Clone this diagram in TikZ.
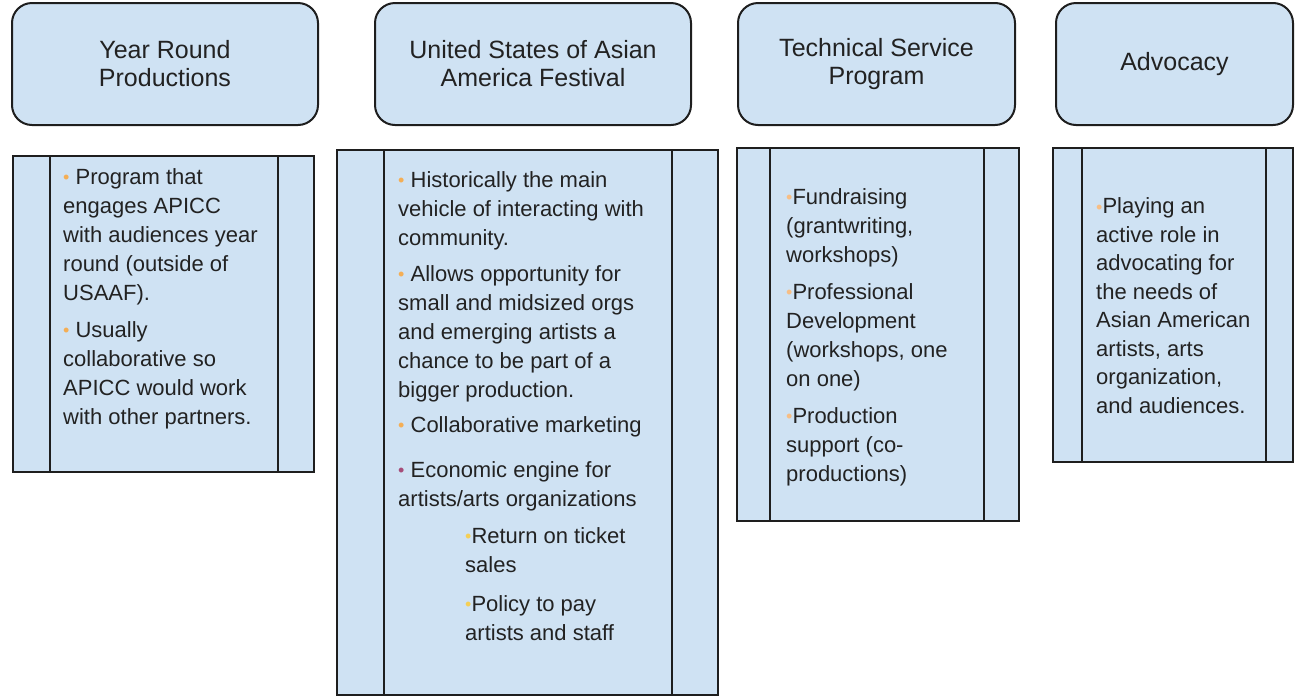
\documentclass[tikz,border=0pt]{standalone}
\usepackage{fontspec}
\setmainfont{Liberation Sans}
\definecolor{boxfill}{HTML}{CFE2F3}
\definecolor{boxline}{HTML}{1E1E1E}
\definecolor{txt}{HTML}{222222}
\definecolor{bulA}{HTML}{F4AE55}
\definecolor{bulB}{HTML}{A64D79}
\definecolor{bulC}{HTML}{F7BE85}
\definecolor{bulD}{HTML}{F5CF55}
% small coloured bullet
\newcommand{\bul}[1]{{\fontsize{18}{18}\selectfont\textcolor{#1}{\raisebox{0.5pt}{•}}}}

\begin{document}
\begin{tikzpicture}[x=1pt,y=-1pt,
  head/.style={draw=boxline, line width=2pt, fill=boxfill, rounded corners=20pt,
    text=txt, align=center, font=\fontsize{25}{28}\selectfont, inner sep=0pt},
  panel/.style={draw=boxline, line width=2pt, fill=boxfill, inner sep=0pt},
  divider/.style={draw=boxline, line width=2pt},
  % multi-line text is placed by the baseline of its last line
  bodytext/.style={text=txt, align=left, font=\fontsize{22}{29}\selectfont,
    inner sep=0pt, anchor=base west},
]
\useasboundingbox (0,0) rectangle (1295,697);

% column headers
\node[head, minimum width=306pt, minimum height=122pt] (h1) at (165,64) {Year Round\\Productions};
\node[head, minimum width=316pt, minimum height=122pt] (h2) at (533,64) {United States of Asian\\America Festival};
\node[head, minimum width=277pt, minimum height=122pt] (h3) at (876.5,64) {Technical Service\\Program};
\node[head, minimum width=237pt, minimum height=122pt] (h4) at (1174.5,64) {Advocacy};

% detail panels
\node[panel, minimum width=301pt, minimum height=316pt] (p1) at (163.5,314) {};
\node[panel, minimum width=381pt, minimum height=545pt] (p2) at (527.5,422.5) {};
\node[panel, minimum width=282pt, minimum height=373pt] (p3) at (878,334.5) {};
\node[panel, minimum width=240pt, minimum height=314pt] (p4) at (1173,305) {};

% side strips of each panel
\draw[divider] ([xshift=38pt]p1.north west) -- ([xshift=38pt]p1.south west);
\draw[divider] ([xshift=-37pt]p1.north east) -- ([xshift=-37pt]p1.south east);
\draw[divider] ([xshift=48pt]p2.north west) -- ([xshift=48pt]p2.south west);
\draw[divider] ([xshift=-47pt]p2.north east) -- ([xshift=-47pt]p2.south east);
\draw[divider] ([xshift=34pt]p3.north west) -- ([xshift=34pt]p3.south west);
\draw[divider] ([xshift=-36pt]p3.north east) -- ([xshift=-36pt]p3.south east);
\draw[divider] ([xshift=30pt]p4.north west) -- ([xshift=30pt]p4.south west);
\draw[divider] ([xshift=-28pt]p4.north east) -- ([xshift=-28pt]p4.south east);

% panel texts
\node[bodytext] (t1) at (63,424) {%
\bul{bulA} Program that\\
engages APICC\\
with audiences year\\
round (outside of\\
USAAF).\\[8pt]
\bul{bulA} Usually\\
collaborative so\\
APICC would work\\
with other partners.};

\node[bodytext] (t2) at (398,640) {%
\bul{bulA} Historically the main\\
vehicle of interacting with\\
community.\\[7pt]
\bul{bulA} Allows opportunity for\\
small and midsized orgs\\
and emerging artists a\\
chance to be part of a\\
bigger production.\\[6pt]
\bul{bulA} Collaborative marketing\\[16pt]
\bul{bulB} Economic engine for\\
artists/arts organizations\\[8pt]
\hspace*{67pt}\bul{bulD}Return on ticket\\
\hspace*{67pt}sales\\[10pt]
\hspace*{67pt}\bul{bulD}Policy to pay\\
\hspace*{67pt}artists and staff};

\node[bodytext] (t3) at (786,481) {%
\bul{bulC}Fundraising\\
(grantwriting,\\
workshops)\\[8pt]
\bul{bulC}Professional\\
Development\\
(workshops, one\\
on one)\\[8pt]
\bul{bulC}Production\\
support (co-\\
productions)};

\node[bodytext, font=\fontsize{22}{28.5}\selectfont] (t4) at (1096,413) {%
\bul{bulC}Playing an\\
active role in\\
advocating for\\
the needs of\\
Asian American\\
artists, arts\\
organization,\\
and audiences.};
\end{tikzpicture}
\end{document}
